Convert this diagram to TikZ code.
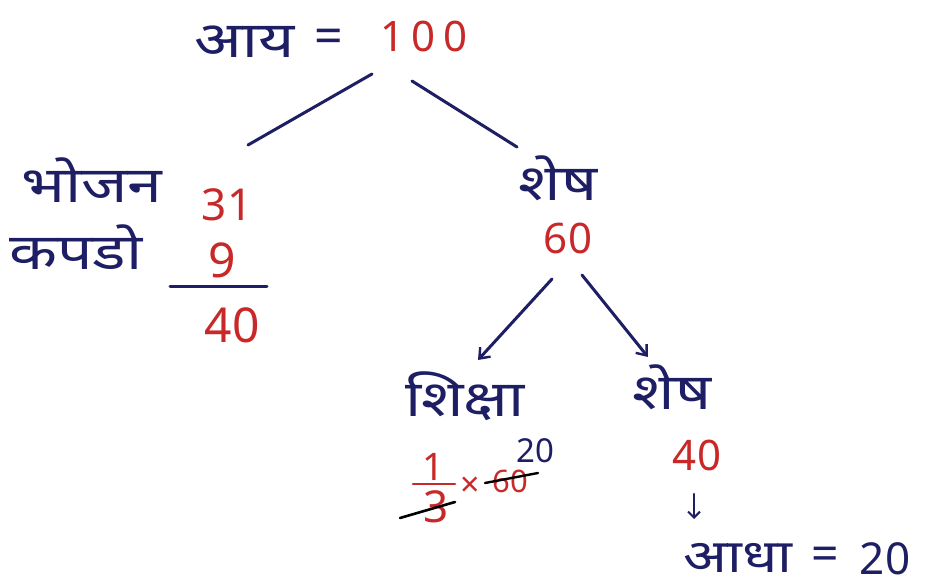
\documentclass[tikz,border=0pt]{standalone}
\usepackage{fontspec}
\setmainfont{Noto Sans}
\newfontfamily\hindi[Script=Devanagari,FakeStretch=1.25]{Noto Sans}
\usetikzlibrary{arrows.meta}
\definecolor{ink}{RGB}{30,30,100}
\definecolor{redink}{RGB}{200,40,40}

\begin{document}
\begin{tikzpicture}[x=1pt,y=-1pt,font=\fontsize{42}{46}\selectfont,
  hin/.style={text=ink,inner sep=0pt,anchor=base,font=\hindi\fontsize{50}{54}\selectfont},
  num/.style={text=redink,inner sep=0pt,anchor=base},
  conn/.style={draw=ink,line width=3pt,line cap=round},
  tip/.style={-{Straight Barb[length=9pt,width=14pt,line width=2.4pt]}}]
 \useasboundingbox[fill=white] (0,0) rectangle (930,588);
 % top
 \node[hin] (aay) at (245,58) {आय};
 \node[text=ink,inner sep=0pt,font=\fontsize{50}{54}\selectfont] (eq) at (329,41) {=};
 \node[num] (hundred) at (424,52) {1\,0\,0};
 \coordinate (la) at (372,74); \coordinate (lb) at (248,145);
 \coordinate (ra) at (412,81); \coordinate (rb) at (517,147);
 \draw[conn] (la) -- (lb);
 \draw[conn] (ra) -- (rb);
 % left branch
 \node[hin] (bhojan) at (92,203) {भोजन};
 \node[hin] (kapdo) at (76,270) {कपडो};
 \node[num,font=\fontsize{44}{48}\selectfont] (nA) at (227,221) {31};
 \node[num,font=\fontsize{48}{52}\selectfont] (nB) at (222,278) {9};
 \coordinate (sa) at (170,287); \coordinate (sb) at (267,287);
 \draw[conn] (sa) -- (sb);
 \node[num,font=\fontsize{48}{52}\selectfont] (nC) at (232,343) {40};
 % right branch
 \node[hin] (sheshA) at (558,201) {शेष};
 \node[num,font=\fontsize{42}{46}\selectfont] (nD) at (568,254) {60};
 \coordinate (aa) at (552,279); \coordinate (ab) at (478,360);
 \coordinate (ba) at (582,275); \coordinate (bb) at (648,357);
 \draw[conn,tip] (aa) -- (ab);
 \draw[conn,tip] (ba) -- (bb);
 \node[hin] (shiksha) at (465,417) {शिक्षा};
 \node[num,font=\fontsize{38}{40}\selectfont] (one) at (433,480) {1};
 \coordinate (fa) at (413,484); \coordinate (fb) at (455,484);
 \draw[draw=redink,line width=2.6pt,line cap=round] (fa) -- (fb);
 \node[num,font=\fontsize{44}{46}\selectfont] (three) at (436,522) {3};
 \node[num,font=\fontsize{34}{36}\selectfont] (times) at (470,496) {×};
 \node[num,font=\fontsize{31}{34}\selectfont] (sixty) at (510,492) {60};
 \node[text=ink,inner sep=0pt,anchor=base,font=\fontsize{33}{36}\selectfont] (twenty) at (535,462) {20};
 \coordinate (xa) at (400,518); \coordinate (xb) at (455,502);
 \coordinate (ya) at (485,483); \coordinate (yb) at (538,473);
 \draw[draw=black,line width=2.6pt,line cap=round] (xa) -- (xb);
 \draw[draw=black,line width=2.4pt,line cap=round] (ya) -- (yb);
 \node[hin] (sheshB) at (672,409) {शेष};
 \node[num] (nE) at (697,470) {40};
 \coordinate (da) at (694,494); \coordinate (db) at (694,519);
 \draw[conn,line width=2.4pt,-{Straight Barb[length=6pt,width=12pt,line width=2pt]}] (da) -- (db);
 \node[hin,font=\hindi\fontsize{46}{50}\selectfont] (aadha) at (738,572) {आधा};
 \node[text=ink,inner sep=0pt,font=\fontsize{48}{52}\selectfont] (eqB) at (825,559) {=};
 \node[text=ink,inner sep=0pt,anchor=base,font=\fontsize{44}{48}\selectfont] (nF) at (885,574) {20};
\end{tikzpicture}
\end{document}
